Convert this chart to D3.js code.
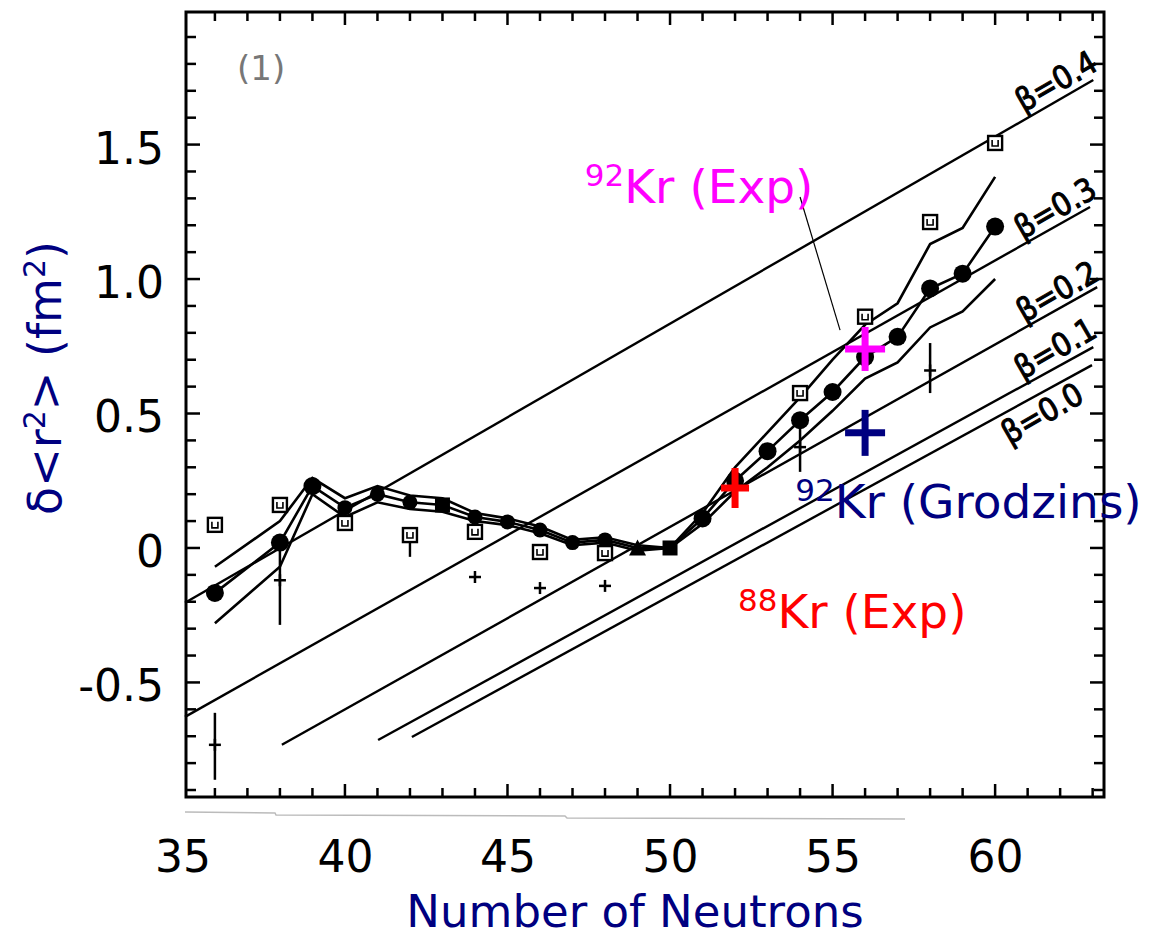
<!DOCTYPE html>
<html><head><meta charset="utf-8">
<script src="https://cdn.jsdelivr.net/npm/d3@7"></script>
<style>body{margin:0;background:#fff}</style>
</head><body><svg id="c" width="1149" height="940"></svg>
<script>
// ---------- data ----------
const neutrons = [36,38,39,40,41,42,43,44,45,46,47,48,49,50,51,52,53,54,55,56,57,58,59,60];
const radiusCentral = [-0.167,0.02,0.23,0.15,0.20,0.17,0.16,0.115,0.097,0.067,0.02,0.03,0.0,0.0,0.11,0.25,0.36,0.475,0.58,0.71,0.785,0.965,1.02,1.195];
const radiusUpper   = [-0.07,0.10,0.26,0.185,0.23,0.195,0.185,0.13,0.11,0.08,0.03,0.04,0.01,0.0,0.13,0.30,0.43,0.56,0.70,0.83,0.91,1.13,1.19,1.38];
const radiusLower   = [-0.28,-0.07,0.20,0.115,0.17,0.145,0.135,0.10,0.085,0.055,0.01,0.02,-0.01,0.0,0.09,0.21,0.30,0.40,0.51,0.63,0.69,0.82,0.88,1.00];
const markerShapes  = ['c','c','c','c','c','c','s','c','c','c','c','c','t','s','c','c','c','c','c','c','c','c','c','c'];

const squareN = [36,38,40,42,44,46,48,54,56,58,60];
const squareV = [0.086,0.16,0.093,0.048,0.06,-0.015,-0.019,0.576,0.86,1.212,1.506];
const squareErrLo = [null,null,null,-0.033,null,null,null,null,null,null,null];

const plusN = [36,38,44,46,48,54,58];
const plusV = [-0.732,-0.12,-0.108,-0.149,-0.141,0.375,0.66];
const plusErrLo = [-0.862,-0.286,null,null,null,0.283,0.576];
const plusErrHi = [-0.613,0.03,null,null,null,0.487,0.762];

const betaLabels = ['β=0.4','β=0.3','β=0.2','β=0.1','β=0.0'];
const betaStartN = [35.08,35.08,38.06,41.02,42.06];
const betaStartV = [-0.204,-0.628,-0.732,-0.714,-0.703];
const betaEndN   = [63.02,62.92,63.14,63.02,62.98];
const betaEndV   = [1.740,1.268,0.970,0.747,0.680];
const betaLabelN = [61.91,61.88,61.94,61.88,61.48];
const betaLabelV = [1.729,1.257,0.948,0.736,0.494];

const xTicks = [35,40,45,50,55,60];
const yTicks = [-0.5,0,0.5,1.0,1.5];

const highlightN = [56,56,52];
const highlightV = [0.74,0.428,0.223];
const highlightColors = ['#ff00ff','#000080','#ff0000'];
const highlightNames = ['Kr (Exp)','Kr (Grodzins)','Kr (Exp)'];
const highlightMass = ['92','92','88'];
const highlightLabelN = [47.38,53.85,52.09];
const highlightLabelV = [1.283,0.112,-0.297];

// ---------- chart ----------
const svg = d3.select('#c');
const F = "'DejaVu Sans', sans-serif";
const x = d3.scaleLinear().domain([35.08, 63.38]).range([185, 1105]);
const y = d3.scaleLinear().domain([-0.926, 1.993]).range([797, 12]);

// scan artifact line under axis
svg.append('path').attr('d','M185,812 L275,813 L276,815 L565,816 L567,818 L905,819')
  .attr('fill','none').attr('stroke','#bbb').attr('stroke-width',1.5);

// frame
const L = x.range()[0]+1, R = x.range()[1]-1, T = y.range()[1], B = y.range()[0];
svg.append('rect').attr('x',L).attr('y',T).attr('width',R-L).attr('height',B-T)
  .attr('fill','none').attr('stroke','#000').attr('stroke-width',3);
const tg = svg.append('g').attr('stroke','#000').attr('stroke-width',2.5);
d3.range(36,64).forEach(n=>{
  const len = n%5===0?13:9;
  tg.append('line').attr('x1',x(n)).attr('x2',x(n)).attr('y1',T).attr('y2',T+len);
  tg.append('line').attr('x1',x(n)).attr('x2',x(n)).attr('y1',B).attr('y2',B-len);
});
d3.range(-9,20).forEach(k=>{
  const v=k/10, len = k%5===0?14:10;
  tg.append('line').attr('x1',L).attr('x2',L+len).attr('y1',y(v)).attr('y2',y(v));
  tg.append('line').attr('x1',R).attr('x2',R-len).attr('y1',y(v)).attr('y2',y(v));
});

// axes labels via d3 axes
const xa = svg.append('g').attr('transform','translate(0,872)')
  .call(d3.axisBottom(x).tickValues(xTicks).tickSize(0).tickFormat(d3.format('d')));
xa.select('.domain').remove();
xa.selectAll('text').attr('y',0).attr('dy',0).attr('font-size',44).attr('font-family',F).attr('fill','#000');
const ya = svg.append('g').attr('transform','translate(164,0)')
  .call(d3.axisLeft(y).tickValues(yTicks).tickSize(0)
    .tickFormat(d=>d===0?'0':(d<0?'-':'')+Math.abs(d).toFixed(1)));
ya.select('.domain').remove();
ya.selectAll('text').attr('x',0).attr('dy','0.42em').attr('font-size',44).attr('font-family',F).attr('fill','#000');

// axis titles
svg.append('text').attr('x',635).attr('y',927).attr('text-anchor','middle')
  .attr('font-family',F).attr('font-size',45).attr('fill','#000080').text('Number of Neutrons');
const yt = svg.append('text').attr('transform','translate(61,378) rotate(-90)').attr('text-anchor','middle')
  .attr('font-family',F).attr('font-size',46).attr('fill','#000080');
yt.append('tspan').text('δ<r');
yt.append('tspan').attr('dy',-16).attr('font-size',30).text('2');
yt.append('tspan').attr('dy',16).text('> (fm');
yt.append('tspan').attr('dy',-16).attr('font-size',30).text('2');
yt.append('tspan').attr('dy',16).text(')');

// panel label
svg.append('text').attr('x',x(36.68)).attr('y',y(1.74)).attr('font-family',F).attr('font-size',34)
  .attr('fill','#777').text('(1)');

// beta lines
const bg = svg.append('g');
betaLabels.forEach((lab,i)=>{
  bg.append('line').attr('x1',x(betaStartN[i])).attr('y1',y(betaStartV[i]))
    .attr('x2',x(betaEndN[i])).attr('y2',y(betaEndV[i]))
    .attr('stroke','#000').attr('stroke-width',2.4);
  bg.append('text').attr('transform',`translate(${x(betaLabelN[i])},${y(betaLabelV[i])}) rotate(-30)`)
    .attr('text-anchor','middle').attr('dominant-baseline','middle')
    .attr('font-family',"'DejaVu Sans Condensed','DejaVu Sans',sans-serif").attr('font-size',32)
    .attr('fill','#000').attr('stroke','#000').attr('stroke-width',1).text(lab);
});

// band curves
const pts = arr => neutrons.map((n,i)=>[n,arr[i]]);
const line = d3.line().x(d=>x(d[0])).y(d=>y(d[1]));
[radiusUpper,radiusLower,radiusCentral].forEach(arr=>{
  svg.append('path').attr('d',line(pts(arr))).attr('fill','none').attr('stroke','#000').attr('stroke-width',2.6);
});

// central markers
const mg = svg.append('g').attr('fill','#000');
neutrons.forEach((n,i)=>{
  const cx=x(n), cy=y(radiusCentral[i]);
  const r = (n>=40 && n<=50)?7.5:9;
  if(markerShapes[i]==='c') mg.append('circle').attr('cx',cx).attr('cy',cy).attr('r',r);
  else if(markerShapes[i]==='s') mg.append('rect').attr('x',cx-r).attr('y',cy-r).attr('width',2*r).attr('height',2*r);
  else mg.append('path').attr('d',`M${cx},${cy-r-1}L${cx+r+1},${cy+r}L${cx-r-1},${cy+r}Z`);
});

// open squares
const sg = svg.append('g');
squareN.forEach((n,i)=>{
  const cx=x(n), cy=y(squareV[i]);
  if(squareErrLo[i]!==null)
    sg.append('line').attr('x1',cx).attr('x2',cx).attr('y1',cy).attr('y2',y(squareErrLo[i])).attr('stroke','#000').attr('stroke-width',2.4);
  sg.append('rect').attr('x',cx-7).attr('y',cy-7).attr('width',14).attr('height',14)
    .attr('fill','#fff').attr('stroke','#000').attr('stroke-width',2.4);
  sg.append('path').attr('d',`M${cx-3},${cy-3}V${cy+3}H${cx+3}V${cy-3}`).attr('fill','none').attr('stroke','#000').attr('stroke-width',1.6);
});

// small plus markers with error bars
const pg = svg.append('g').attr('stroke','#000').attr('stroke-width',2.5);
plusN.forEach((n,i)=>{
  const cx=x(n), cy=y(plusV[i]);
  if(plusErrLo[i]!==null) pg.append('line').attr('x1',cx).attr('x2',cx).attr('y1',y(plusErrHi[i])).attr('y2',y(plusErrLo[i]));
  pg.append('line').attr('x1',cx-6).attr('x2',cx+6).attr('y1',cy).attr('y2',cy);
  pg.append('line').attr('x1',cx).attr('x2',cx).attr('y1',cy-6).attr('y2',cy+6);
});

// leader line for 92Kr (Exp)
svg.append('line').attr('x1',x(54.0)).attr('y1',y(1.305)).attr('x2',x(55.23)).attr('y2',y(0.81))
  .attr('stroke','#000').attr('stroke-width',1.2);

// highlighted crosses
const crossW = [40,40,28], crossH = [44,46,40];
highlightN.forEach((n,i)=>{
  const cx=x(n), cy=y(highlightV[i]);
  const g = svg.append('g').attr('stroke',highlightColors[i]).attr('stroke-width',7);
  g.append('line').attr('x1',cx-crossW[i]/2).attr('x2',cx+crossW[i]/2).attr('y1',cy).attr('y2',cy);
  g.append('line').attr('x1',cx).attr('x2',cx).attr('y1',cy-crossH[i]/2).attr('y2',cy+crossH[i]/2);
  const t = svg.append('text').attr('x',x(highlightLabelN[i])).attr('y',y(highlightLabelV[i]))
    .attr('font-family',F).attr('font-size',47).attr('fill',highlightColors[i]);
  t.append('tspan').attr('dy',-17).attr('font-size',31).text(highlightMass[i]);
  t.append('tspan').attr('dy',17).text(highlightNames[i]);
});
</script></body></html>
